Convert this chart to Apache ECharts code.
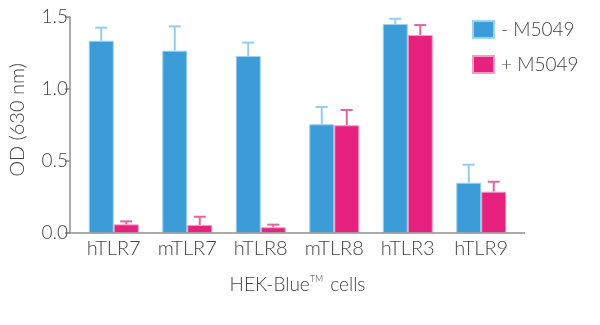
<!DOCTYPE html>
<html>
<head>
<meta charset="utf-8">
<script src="https://cdn.jsdelivr.net/npm/echarts@6/dist/echarts.min.js"></script>
<style>
  html, body { margin: 0; padding: 0; background: #fff; }
  #chart { width: 600px; height: 325px; }
</style>
</head>
<body>
<div id="chart"></div>
<script>
// Cell lines tested
const categories = ['hTLR7', 'mTLR7', 'hTLR8', 'mTLR8', 'hTLR3', 'hTLR9'];

// Mean OD at 630 nm without / with the inhibitor
const withoutM5049 = [1.335, 1.266, 1.229, 0.755, 1.451, 0.349];
const withM5049    = [0.060, 0.056, 0.040, 0.748, 1.375, 0.287];

// Upper end of the error bar (mean + SD)
const withoutM5049Err = [1.426, 1.435, 1.322, 0.875, 1.488, 0.474];
const withM5049Err    = [0.081, 0.113, 0.058, 0.854, 1.444, 0.356];

const yTicks = { min: 0, max: 1.5, interval: 0.5 };

const BLUE = '#3b9cd8', BLUE_EDGE = '#9fd0f0', BLUE_ERR = '#94cdee';
const PINK = '#e6227e', PINK_EDGE = '#f49cc4', PINK_ERR = '#e4649f';
const TEXT = '#444444';
const FONT = 'Lato';
const BAR_W = 25;

function errorSeries(name, means, tops, side, color) {
  return {
    type: 'custom',
    name: name,
    silent: true,
    z: 1,
    data: means.map((m, i) => [i, m, tops[i]]),
    renderItem: function (params, api) {
      const i = api.value(0);
      const base = api.coord([i, api.value(1)]);
      const top = api.coord([i, api.value(2)]);
      const x = base[0] + side * BAR_W / 2;
      const cap = 6;
      return {
        type: 'group',
        children: [
          { type: 'line', shape: { x1: x, y1: base[1], x2: x, y2: top[1] },
            style: { stroke: color, lineWidth: 2 } },
          { type: 'line', shape: { x1: x - cap, y1: top[1], x2: x + cap, y2: top[1] },
            style: { stroke: color, lineWidth: 2 } }
        ]
      };
    }
  };
}

const chart = echarts.init(document.getElementById('chart'), null, { renderer: 'canvas' });

const option = {
  animation: false,
  textStyle: { fontFamily: FONT, fontWeight: 300 },
  grid: { left: 76, right: 82, top: 17, bottom: 92 },
  legend: {
    orient: 'vertical',
    left: 467, top: 15,
    itemWidth: 21, itemHeight: 17, itemGap: 16,
    icon: 'rect',
    data: ['- M5049', '+ M5049'],
    textStyle: { fontFamily: FONT, fontWeight: 300, fontSize: 19, color: TEXT, padding: [0, 0, 0, 2] }
  },
  xAxis: {
    type: 'category',
    data: categories,
    axisLine: { show: false },
    axisTick: { show: false },
    axisLabel: { fontFamily: FONT, fontWeight: 300, fontSize: 20, color: TEXT, margin: 6,
                 interval: 0, hideOverlap: false },
    name: 'HEK-Blue{sup|TM} cells',
    nameLocation: 'middle',
    nameGap: 42,
    nameTextStyle: {
      fontFamily: FONT, fontWeight: 300, fontSize: 19, color: TEXT,
      rich: { sup: { fontFamily: FONT, fontSize: 9, color: TEXT, verticalAlign: 'top', padding: [0, 2, 9, 0] } }
    }
  },
  yAxis: {
    type: 'value',
    min: yTicks.min, max: yTicks.max, interval: yTicks.interval,
    offset: 7,
    splitLine: { show: false },
    axisLine: { show: true, lineStyle: { color: '#8f8f8f', width: 1.5 } },
    axisTick: { show: true, length: 5, lineStyle: { color: '#8f8f8f', width: 1.5 } },
    axisLabel: { fontFamily: FONT, fontWeight: 300, fontSize: 19, color: TEXT, margin: 2,
                 formatter: v => v.toFixed(1) },
    name: 'OD (630 nm)',
    nameLocation: 'middle',
    nameGap: 42,
    nameTextStyle: { fontFamily: FONT, fontWeight: 300, fontSize: 20, color: TEXT, padding: [0, 0, 0, 10] }
  },
  series: [
    {
      type: 'bar', name: '- M5049', data: withoutM5049,
      barWidth: BAR_W, barGap: '0%', z: 2,
      itemStyle: { color: BLUE, borderColor: BLUE_EDGE, borderWidth: 1 }
    },
    {
      type: 'bar', name: '+ M5049', data: withM5049,
      barWidth: BAR_W, barGap: '0%', z: 2,
      itemStyle: { color: PINK, borderColor: PINK_EDGE, borderWidth: 1 }
    },
    errorSeries('err-', withoutM5049, withoutM5049Err, -1, BLUE_ERR),
    errorSeries('err+', withM5049, withM5049Err, 1, PINK_ERR)
  ]
};

chart.setOption(option);

// Baseline spanning from the y axis to the right end of the plot
const y0 = chart.convertToPixel({ yAxisIndex: 0 }, 0);
chart.setOption({
  graphic: [{
    type: 'line', z: 10,
    shape: { x1: 68, y1: y0, x2: 525, y2: y0 },
    style: { stroke: '#8f8f8f', lineWidth: 1.5 }
  }]
});
</script>
</body>
</html>
